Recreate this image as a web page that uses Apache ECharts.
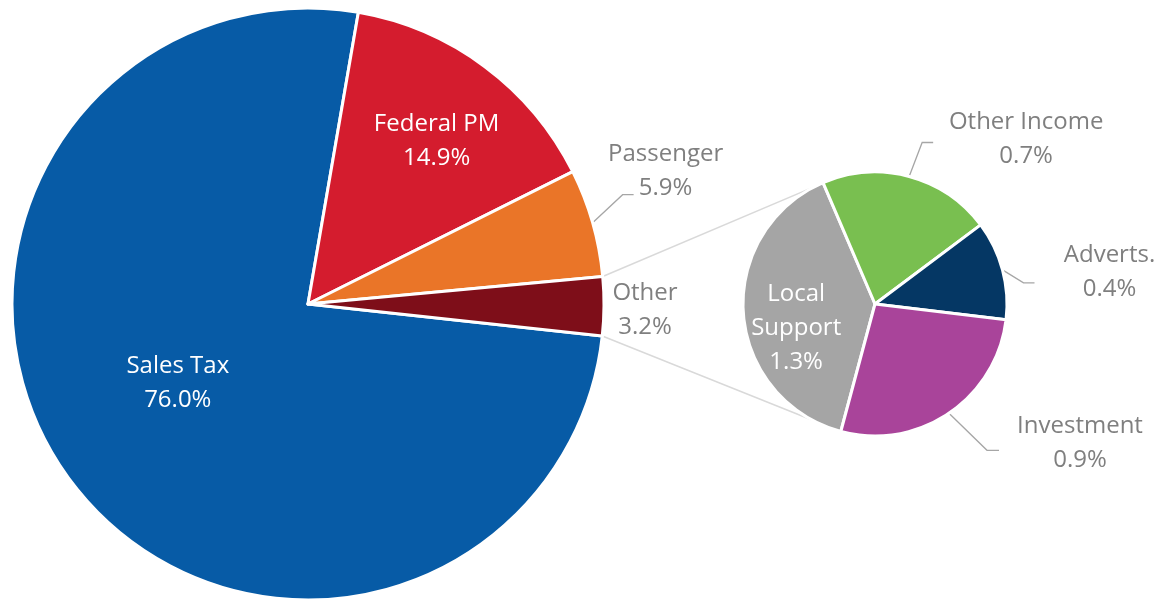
<!DOCTYPE html>
<html><head><meta charset="utf-8">
<script src="https://cdn.jsdelivr.net/npm/echarts@6.0.0/dist/echarts.min.js"></script>
<style>html,body{margin:0;padding:0;background:#fff}#c{width:1168px;height:601px}</style>
</head><body><div id="c"></div>
<script>
// ---- data ----
const mainCategories = ['Sales Tax', 'Federal PM', 'Passenger', 'Other'];
const mainValues = [76.0, 14.9, 5.9, 3.2];
const subCategories = ['Local Support', 'Other Income', 'Adverts.', 'Investment'];
const subValues = [1.3, 0.7, 0.4, 0.9];

// ---- styles ----
const mainColors = ['#075ba6', '#d41c2e', '#ea7528', '#7e0e19'];
const subColors = ['#a5a5a5', '#79bf50', '#053764', '#a9449a'];
const TEXT_GRAY = '#7f7f7f';
const FONT = '"Open Sans", "Noto Sans", sans-serif';
const TEXT_SHIFT_Y = 2;

const MAIN = {cx: 308, cy: 304, r: 296, start: -6.2};
const SUB = {cx: 875, cy: 304, r: 132, start: 255};

// label placement (offsets in px)
const mainLabelSpec = [
  {inside: true, f: 0.5, off: [-12, -12]},
  {inside: true, f: 0.7, off: [5, 1]},
  {elbow: [30, -28], end: [41, -28], label: [73, -54]},
  {label: [41, 2]}
];
const subLabelSpec = [
  {inside: true, f: 0.5, off: [-13, 17], lines: ['Local', 'Support']},
  {elbow: [13, -34], end: [24, -34], label: [117, -39]},
  {elbow: [21, 13], end: [32, 13], label: [107, 0]},
  {elbow: [38, 37], end: [50, 37], label: [131, 28]}
];

function midAngle(values, start, i) {
  const total = values.reduce((a, b) => a + b, 0);
  let a = start;
  for (let k = 0; k < i; k++) a -= values[k] / total * 360;
  return a - values[i] / total * 180;
}
function pt(geo, angDeg, rr) {
  const t = angDeg * Math.PI / 180;
  return [geo.cx + rr * Math.cos(t), geo.cy - rr * Math.sin(t)];
}
function makeLayout(geo, values, spec) {
  return function (params) {
    const i = params.dataIndex;
    const s = spec[i];
    const m = midAngle(values, geo.start, i);
    if (s.inside) {
      const p = pt(geo, m, geo.r * s.f);
      return {x: p[0] + s.off[0], y: p[1] + s.off[1] + TEXT_SHIFT_Y, align: 'center', verticalAlign: 'middle'};
    }
    const e = pt(geo, m, geo.r);
    const out = {x: e[0] + s.label[0], y: e[1] + s.label[1] + TEXT_SHIFT_Y, align: 'center', verticalAlign: 'middle'};
    if (s.elbow) {
      out.labelLinePoints = [
        [e[0], e[1]],
        [e[0] + s.elbow[0], e[1] + s.elbow[1]],
        [e[0] + s.end[0], e[1] + s.end[1]]
      ];
    }
    return out;
  };
}
function buildData(cats, vals, colors, spec) {
  return cats.map((c, i) => {
    const s = spec[i];
    const txt = (s.lines ? s.lines.join('\n') : c) + '\n' + vals[i].toFixed(1) + '%';
    return {
      name: c, value: vals[i],
      itemStyle: {color: colors[i]},
      label: {formatter: txt, color: s.inside ? '#ffffff' : TEXT_GRAY},
      labelLine: {show: !!s.elbow}
    };
  });
}

const seriesCommon = {
  type: 'pie',
  clockwise: true,
  avoidLabelOverlap: false,
  itemStyle: {borderColor: '#ffffff', borderWidth: 3},
  label: {show: true, position: 'outside', fontFamily: FONT, fontSize: 24, lineHeight: 34},
  labelLine: {show: true, smooth: false, lineStyle: {color: '#a6a6a6', width: 1.3}},
  emphasis: {disabled: true}
};

// connector lines from the "Other" slice to the secondary pie
const otherTop = MAIN.start + mainValues[3] / mainValues.reduce((a, b) => a + b, 0) * 360;
const c1a = pt(MAIN, otherTop, MAIN.r), c1b = pt(SUB, 117.5, SUB.r);
const c2a = pt(MAIN, MAIN.start, MAIN.r), c2b = pt(SUB, -118.5, SUB.r);

const chart = echarts.init(document.getElementById('c'), null, {renderer: 'canvas'});
chart.setOption({
  animation: false,
  backgroundColor: '#ffffff',
  graphic: [
    {type: 'line', z: -1, shape: {x1: c1a[0], y1: c1a[1], x2: c1b[0], y2: c1b[1]}, style: {stroke: '#d9d9d9', lineWidth: 1.5}},
    {type: 'line', z: -1, shape: {x1: c2a[0], y1: c2a[1], x2: c2b[0], y2: c2b[1]}, style: {stroke: '#d9d9d9', lineWidth: 1.5}}
  ],
  series: [
    Object.assign({}, seriesCommon, {
      name: 'Revenue', center: [MAIN.cx, MAIN.cy], radius: MAIN.r, startAngle: MAIN.start,
      labelLayout: makeLayout(MAIN, mainValues, mainLabelSpec),
      data: buildData(mainCategories, mainValues, mainColors, mainLabelSpec)
    }),
    Object.assign({}, seriesCommon, {
      name: 'Other', center: [SUB.cx, SUB.cy], radius: SUB.r, startAngle: SUB.start,
      labelLayout: makeLayout(SUB, subValues, subLabelSpec),
      data: buildData(subCategories, subValues, subColors, subLabelSpec)
    })
  ]
});
</script>
</body></html>
